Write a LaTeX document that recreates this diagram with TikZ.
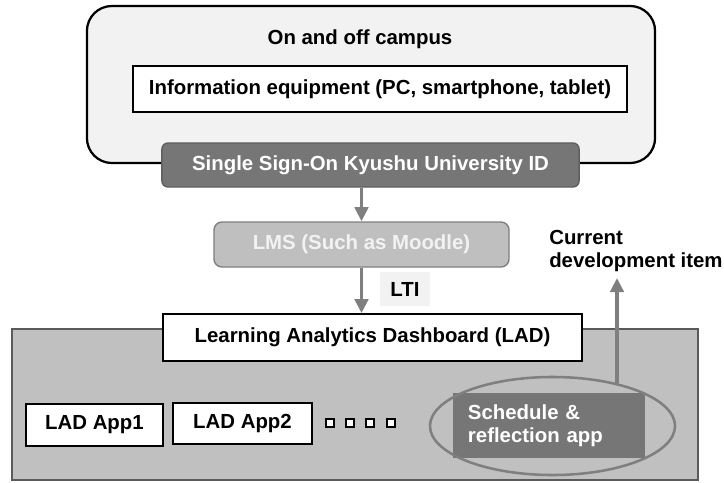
\documentclass[tikz,border=0pt]{standalone}
\usepackage{fontspec}
\setmainfont{Liberation Sans}
\usetikzlibrary{arrows.meta,shapes.geometric}

\definecolor{paper}{HTML}{F2F2F2}
\definecolor{slate}{HTML}{767676}
\definecolor{slateline}{HTML}{5F5F5F}
\definecolor{mist}{HTML}{BFBFBF}
\definecolor{ash}{HTML}{7F7F7F}
\definecolor{areagray}{HTML}{C0C0C0}
\definecolor{arealine}{HTML}{5A5A5A}

\tikzset{
  every node/.style={font=\fontsize{14.5}{16.5}\selectfont\bfseries},
  whitebox/.style={draw=black, line width=1.2pt, fill=white, inner sep=0pt},
  flow/.style={draw=ash, line width=2.8pt, -{Triangle[width=9.5pt,length=10pt]}},
}

\begin{document}
\begin{tikzpicture}[x=0.025cm, y=-0.025cm]
\useasboundingbox (0,0) rectangle (724,482);

% on and off campus
\node[draw=black, line width=1.6pt, fill=paper, rounded corners=0.625cm,
  minimum width=14.2cm, minimum height=3.925cm] (campus) at (371,84.5) {};
\node[anchor=base] (campustitle) at (360,44) {On and off campus};
\node[whitebox, minimum width=12.35cm, minimum height=1.15cm] (device) at (380,89)
  {Information equipment (PC, smartphone, tablet)};

\node[draw=slateline, line width=1pt, fill=slate, text=white, rounded corners=0.15cm,
  minimum width=10.425cm, minimum height=1.1cm] (sso) at (370.5,165)
  {Single Sign-On Kyushu University ID};

\node[draw=ash, line width=1pt, fill=mist, text=paper, rounded corners=0.2cm,
  minimum width=7.375cm, minimum height=1.125cm] (lms) at (361.5,244.5)
  {LMS (Such as Moodle)};

\node[fill=paper, minimum width=1.25cm, minimum height=0.85cm] (lti) at (405,289) {LTI};

% dashboard area
\node[draw=arealine, line width=1.9pt, fill=areagray,
  minimum width=17.15cm, minimum height=3.775cm] (ladarea) at (355,404.5) {};
\node[whitebox, minimum width=10.475cm, minimum height=1.175cm] (lad) at (372.5,337.5)
  {Learning Analytics Dashboard (LAD)};

\node[whitebox, minimum width=3.425cm, minimum height=1.05cm] (appone) at (94.5,425) {LAD App1};
\node[whitebox, minimum width=3.475cm, minimum height=1.025cm] (apptwo) at (242.5,423.5) {LAD App2};

\foreach \sx in {330,350,370,391}
  \node[draw=black, fill=white, line width=0.8pt, minimum size=0.2cm, inner sep=0pt] (sq\sx) at (\sx,423) {};

\node[fill=slate, text=white, inner sep=0pt, inner xsep=0.375cm, text width=4.05cm, align=left,
  minimum height=1.625cm] (schedule) at (549,425.5) {Schedule \&\\reflection app};
\node[ellipse, draw=ash, line width=1.8pt, inner sep=0pt,
  minimum width=6.125cm, minimum height=2.45cm] (schedring) at (552.5,426) {};

\node[anchor=north west, align=left, inner sep=0pt] (devitem) at (549,230) {Current\\development item};
\coordinate (devtip) at (617,278);

% connectors
\draw[flow] (lms.north |- sso.south) -- (lms.north);
\draw[flow] (lms.south) -- (lms.south |- lad.north);
\draw[flow] (devtip |- schedring.33.4) -- (devtip);
\end{tikzpicture}
\end{document}
